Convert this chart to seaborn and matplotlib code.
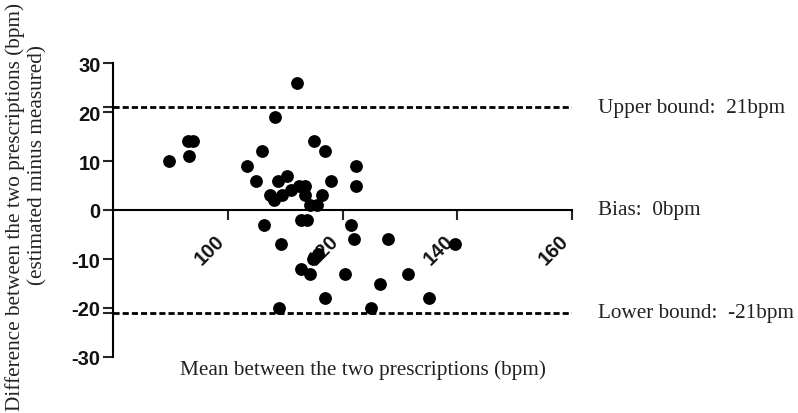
import numpy as np
import pandas as pd
import matplotlib
matplotlib.use("Agg")
import matplotlib.pyplot as plt
import seaborn as sns

# ==========================
# Data
# ==========================
mean_bpm = [89.8, 93.0, 94.0, 93.3, 103.3, 106.0, 105.0, 108.3, 112.0, 108.8,
            110.3, 107.3, 108.0, 109.5, 111.0, 112.4, 113.5, 113.5, 116.4, 114.4,
            115.6, 115.0, 117.0, 118.0, 122.4, 122.4, 106.4, 112.7, 113.8, 121.4,
            109.3, 122.0, 128.0, 139.6, 112.8, 114.4, 114.8, 115.8, 120.4, 126.5,
            131.5, 117.0, 135.0, 109.0, 125.0]
diff_bpm = [10, 14, 14, 11, 9, 12, 6, 19, 26, 6,
            7, 3, 2, 3, 4, 5, 5, 3, 3, 1,
            1, 14, 12, 6, 9, 5, -3, -2, -2, -3,
            -7, -6, -6, -7, -12, -13, -10, -9, -13, -15,
            -13, -18, -18, -20, -20]

upper_bound = 21
bias = 0
lower_bound = -21

x_ticks = [100, 120, 140, 160]
y_ticks = [-30, -20, -10, 0, 10, 20, 30]

bound_labels = ["Upper bound:  21bpm", "Bias:  0bpm", "Lower bound:  -21bpm"]
bound_values = [upper_bound, bias, lower_bound]

df = pd.DataFrame({"mean": mean_bpm, "diff": diff_bpm})

# ==========================
# Plot
# ==========================
sns.set_style("ticks")
plt.rcParams["font.family"] = ["Liberation Sans", "DejaVu Sans"]
plt.rcParams["axes.unicode_minus"] = False

fig = plt.figure(figsize=(7.98, 4.14), dpi=100)
ax = fig.add_axes([113 / 798, 56 / 414, 459 / 798, 294 / 414])

sns.scatterplot(data=df, x="mean", y="diff", ax=ax, color="black",
                s=85, edgecolor="black", linewidth=0, zorder=3)

for v in [upper_bound, lower_bound]:
    ax.axhline(v, color="black", lw=2, ls=(0, (2.2, 1.1)), zorder=2)

ax.set_xlim(80, 160)
ax.set_ylim(-30, 30)
ax.set_xticks(x_ticks)
ax.set_yticks(y_ticks)
ax.set_yticks([upper_bound, lower_bound], minor=True)
ax.set_xlabel("")
ax.set_ylabel("")

ax.spines["top"].set_visible(False)
ax.spines["right"].set_visible(False)
ax.spines["bottom"].set_position(("data", 0))
for s in ["left", "bottom"]:
    ax.spines[s].set_linewidth(1.5)
    ax.spines[s].set_color("black")

ax.tick_params(axis="y", which="major", direction="out", length=7, width=1.5,
               pad=2, labelsize=14.5)
ax.tick_params(axis="y", which="minor", direction="out", length=7, width=1.5)
ax.tick_params(axis="x", direction="out", length=7, width=1.5, pad=8, labelsize=14.5)
ax.set_xticklabels([str(t) for t in x_ticks], rotation=45, ha="right")
for lab in ax.get_xticklabels() + ax.get_yticklabels():
    lab.set_fontweight("bold")
    lab.set_color("#111111")

serif = ["Liberation Serif", "DejaVu Serif"]
fs = 15.3
for txt, v in zip(bound_labels, bound_values):
    ax.text(164.5, v, txt, ha="left", va="center", fontsize=fs,
            family=serif, color="#222222")

fig.text(363 / 798, 1 - 370 / 414, "Mean between the two prescriptions (bpm)",
         ha="center", va="center", fontsize=fs, family=serif, color="#222222")
fig.text(15 / 798, 1 - 207 / 414, "Difference between the two prescriptions (bpm)",
         rotation=90, ha="center", va="center", fontsize=fs, family=serif,
         color="#222222")
fig.text(38 / 798, 1 - 165 / 414, "(estimated minus measured)",
         rotation=90, ha="center", va="center", fontsize=fs, family=serif,
         color="#222222")

fig.savefig("out.png", dpi=100)
